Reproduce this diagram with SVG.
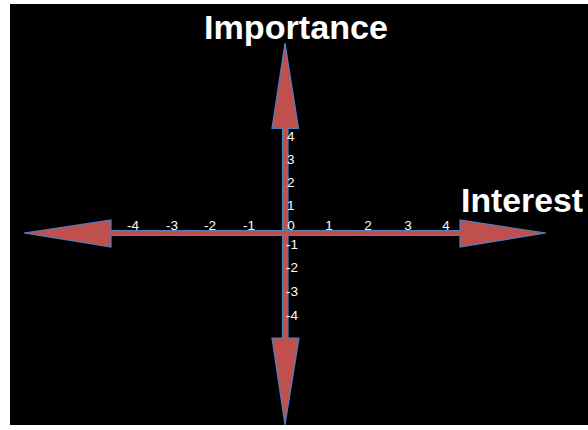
<svg xmlns="http://www.w3.org/2000/svg" width="588" height="430" viewBox="0 0 588 430">
<style>
.arrow{fill:#C0504D;stroke:#4F81BD;stroke-width:1.2;stroke-linejoin:miter}
.title{font-family:"Liberation Sans",Arial,sans-serif;font-weight:bold;font-size:33px;fill:#FFFFFF}
.tick{font-family:"Liberation Sans",Arial,sans-serif;font-size:13.5px;fill:#FFFFFF}
</style>
<rect x="0" y="0" width="588" height="430" fill="#FFFFFF"/>
<rect id="background" x="10" y="4" width="578" height="421" fill="#000000"/>
<g id="connectors">
<polygon class="arrow" points="285,43 298.5,128.5 288,128.5 288,338 299,338 285,425 272,338 282.5,338 282.5,128.5 272,128.5"/>
<polygon class="arrow" points="24,233 111,220 111,230.5 460,230.5 460,220 546,233 460,247 460,235.5 111,235.5 111,247"/>
</g>
<g id="title-importance"><text class="title" x="204" y="39" textLength="184" lengthAdjust="spacingAndGlyphs">Importance</text></g>
<g id="label-interest"><text class="title" x="461" y="212" textLength="122" lengthAdjust="spacingAndGlyphs">Interest</text></g>
<g id="ticks-x" class="tick" text-anchor="middle">
<text x="133" y="230">-4</text>
<text x="172" y="230">-3</text>
<text x="210" y="230">-2</text>
<text x="249" y="230">-1</text>
<text x="291" y="230">0</text>
<text x="329" y="230">1</text>
<text x="368" y="230">2</text>
<text x="408" y="230">3</text>
<text x="446" y="230">4</text>
</g>
<g id="ticks-y" class="tick">
<text x="287" y="141">4</text>
<text x="287" y="164">3</text>
<text x="287" y="187">2</text>
<text x="287" y="210">1</text>
<text x="286" y="249">-1</text>
<text x="286" y="272">-2</text>
<text x="286" y="296">-3</text>
<text x="286" y="320">-4</text>
</g>
</svg>
